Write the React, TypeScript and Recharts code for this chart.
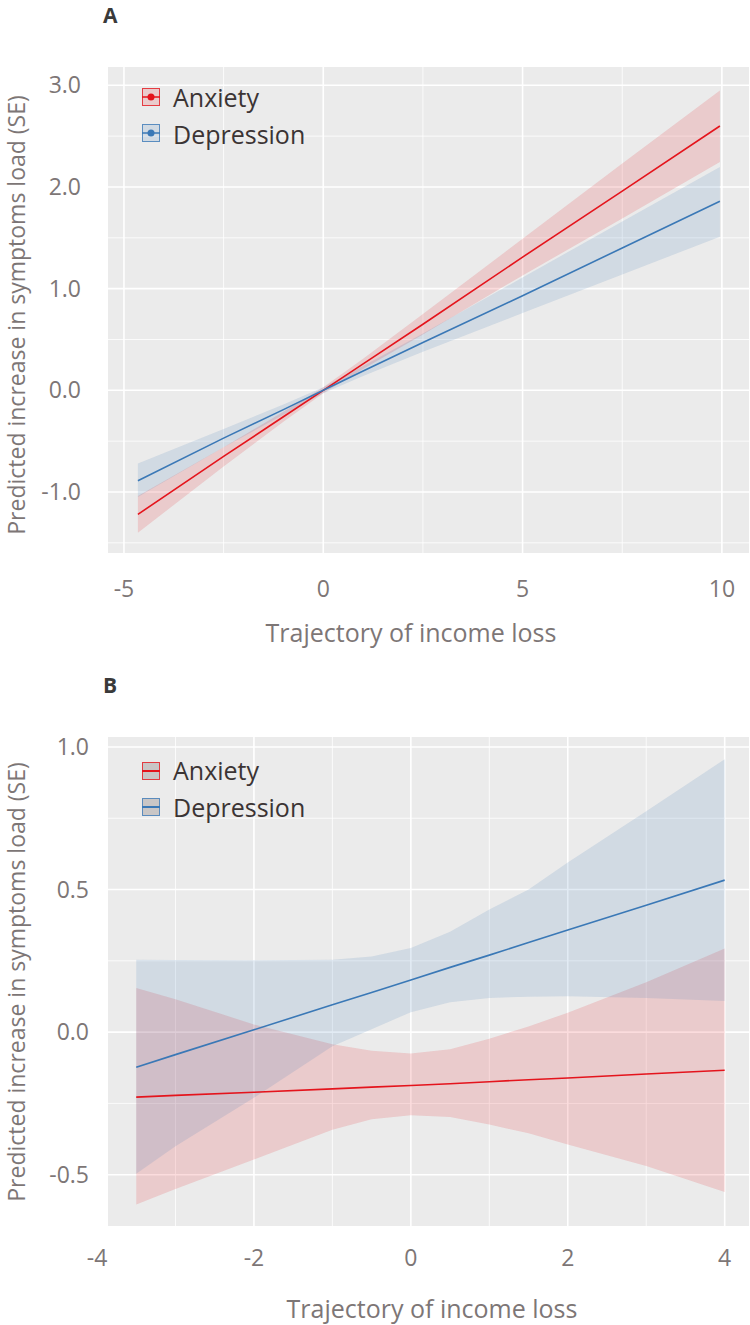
import React from "react";
import { ComposedChart, Area, Line, XAxis, YAxis, CartesianGrid } from "recharts";

const seriesNames = ["Anxiety", "Depression"];
const seriesColors = ["#e4141c", "#3a78b6"];

// Panel A: linear trajectory model
const xA = [-4.65, -2.5, -1, 0, 1, 2.5, 5, 7.5, 9.95];
const anxietyA = [-1.22, -0.65, -0.26, 0.0, 0.26, 0.65, 1.31, 1.96, 2.6];
const anxietyLowA = [-1.4, -0.75, -0.31, -0.03, 0.21, 0.55, 1.13, 1.69, 2.245];
const anxietyHighA = [-1.04, -0.56, -0.21, 0.03, 0.31, 0.75, 1.49, 2.23, 2.95];
const depressionA = [-0.89, -0.47, -0.19, 0.0, 0.19, 0.47, 0.93, 1.4, 1.86];
const depressionLowA = [-1.05, -0.56, -0.24, -0.03, 0.14, 0.38, 0.76, 1.14, 1.51];
const depressionHighA = [-0.72, -0.38, -0.14, 0.03, 0.24, 0.56, 1.11, 1.66, 2.196];
const xTicksA = [-5, 0, 5, 10];
const xMinorA = [-2.5, 2.5, 7.5];
const yTicksA = [-1, 0, 1, 2, 3];
const yMinorA = [-1.5, -0.5, 0.5, 1.5, 2.5];

// Panel B: interaction model
const xB = [-3.5, -3, -2, -1, -0.5, 0, 0.5, 1, 1.5, 2, 3, 4];
const anxietyB = [-0.228, -0.222, -0.211, -0.199, -0.193, -0.187, -0.181, -0.174, -0.167, -0.161, -0.147, -0.134];
const anxietyLowB = [-0.605, -0.55, -0.447, -0.342, -0.306, -0.292, -0.298, -0.324, -0.355, -0.394, -0.47, -0.561];
const anxietyHighB = [0.155, 0.115, 0.027, -0.043, -0.065, -0.075, -0.06, -0.023, 0.02, 0.068, 0.175, 0.293];
const depressionB = [-0.123, -0.079, 0.008, 0.096, 0.139, 0.183, 0.227, 0.27, 0.314, 0.358, 0.445, 0.533];
const depressionLowB = [-0.497, -0.4, -0.23, -0.05, 0.01, 0.07, 0.105, 0.12, 0.124, 0.126, 0.12, 0.109];
const depressionHighB = [0.254, 0.253, 0.252, 0.254, 0.265, 0.295, 0.352, 0.43, 0.5, 0.595, 0.775, 0.957];
const xTicksB = [-4, -2, 0, 2, 4];
const xMinorB = [-3, -1, 1, 3];
const yTicksB = [-0.5, 0, 0.5, 1];
const yMinorB = [-0.25, 0.25, 0.75];

const FONT = "'Open Sans', 'Noto Sans', sans-serif";
const AXIS_TEXT = "#7d7676";
const LEGEND_TEXT = "#3b3434";

function buildRows(xs, anx, anxLo, anxHi, dep, depLo, depHi) {
  return xs.map((x, i) => ({
    x,
    anx: anx[i],
    anxBand: [anxLo[i], anxHi[i]],
    dep: dep[i],
    depBand: [depLo[i], depHi[i]],
  }));
}

const rowsA = buildRows(xA, anxietyA, anxietyLowA, anxietyHighA, depressionA, depressionLowA, depressionHighA);
const rowsB = buildRows(xB, anxietyB, anxietyLowB, anxietyHighB, depressionB, depressionLowB, depressionHighB);

function LegendIcon({ color, y, withDot }) {
  return (
    <g transform={`translate(0, ${y})`}>
      <rect x={0.5} y={0.5} width={17} height={17} fill={withDot ? color : "#c9c6c6"} fillOpacity={withDot ? 0.15 : 1} stroke={color} strokeOpacity={0.8} />
      <line x1={0} x2={18} y1={9} y2={9} stroke={color} strokeWidth={withDot ? 1.5 : 2} />
      {withDot && <circle cx={9} cy={9} r={3.5} fill={color} />}
    </g>
  );
}

function Panel({ letter, top, height, plotTop, plotBottom, rows, xDomain, yDomain, xTicks, xMinor, yTicks, yMinor, xTickGap, yTickGap, xTitleX, xTitleY, yTitleY, legend }) {
  return (
    <div style={{ position: "absolute", left: 0, top, width: 750, height }}>
      <ComposedChart width={750} height={height} data={rows} margin={{ top: plotTop, right: 1, bottom: 0, left: 0 }}>
        <CartesianGrid horizontalValues={yMinor} verticalValues={xMinor} stroke="#ffffff" strokeWidth={0.8} fill="#ebebeb" />
        <CartesianGrid horizontalValues={yTicks} verticalValues={xTicks} stroke="#ffffff" strokeWidth={1.6} />
        <XAxis
          type="number"
          dataKey="x"
          domain={xDomain}
          ticks={xTicks}
          allowDataOverflow
          interval={0}
          height={height - plotBottom}
          axisLine={false}
          tickLine={false}
          tickSize={0}
          tickMargin={xTickGap}
          tick={{ fontSize: 23, fill: AXIS_TEXT, fontFamily: FONT }}
        />
        <YAxis
          type="number"
          domain={yDomain}
          ticks={yTicks}
          allowDataOverflow
          interval={0}
          width={108}
          axisLine={false}
          tickLine={false}
          tickSize={0}
          tickMargin={yTickGap}
          tickFormatter={(v) => v.toFixed(1)}
          tick={{ fontSize: 23, fill: AXIS_TEXT, fontFamily: FONT }}
        />
        <Area dataKey="anxBand" type="linear" stroke="none" fill={seriesColors[0]} fillOpacity={0.15} isAnimationActive={false} />
        <Area dataKey="depBand" type="linear" stroke="none" fill={seriesColors[1]} fillOpacity={0.15} isAnimationActive={false} />
        <Line dataKey="anx" type="linear" stroke={seriesColors[0]} strokeWidth={1.6} dot={false} isAnimationActive={false} />
        <Line dataKey="dep" type="linear" stroke={seriesColors[1]} strokeWidth={1.6} dot={false} isAnimationActive={false} />
      </ComposedChart>
      <svg width={750} height={height} style={{ position: "absolute", left: 0, top: 0, pointerEvents: "none" }}>
        <text x={103} y={letter === "A" ? 23 : 33} fontFamily={FONT} fontWeight={700} fontSize={21} fill="#3a3a3a">{letter}</text>
        <text x={xTitleX} y={xTitleY} textAnchor="middle" fontFamily={FONT} fontSize={25} fill={AXIS_TEXT}>
          Trajectory of income loss
        </text>
        <text x={25} y={yTitleY} transform={`rotate(-90 25 ${yTitleY})`} textAnchor="middle" fontFamily={FONT} fontSize={23} fill={AXIS_TEXT}>
          Predicted increase in symptoms load (SE)
        </text>
        <g transform={`translate(142, ${legend.top})`}>
          {seriesNames.map((name, i) => (
            <g key={name}>
              <LegendIcon color={seriesColors[i]} y={i * 36} withDot={legend.withDot} />
              <text x={31} y={legend.baseline + i * 37} fontFamily={FONT} fontSize={25} fill={LEGEND_TEXT}>{name}</text>
            </g>
          ))}
        </g>
      </svg>
    </div>
  );
}

export default function App() {
  return (
    <div style={{ position: "absolute", left: 0, top: 0, width: 750, height: 1325, background: "#ffffff" }}>
      <Panel
        letter="A"
        top={0}
        height={660}
        plotTop={67}
        plotBottom={553}
        rows={rowsA}
        xDomain={[-5.4, 10.68]}
        yDomain={[-1.6, 3.18]}
        xTicks={xTicksA}
        xMinor={xMinorA}
        yTicks={yTicksA}
        yMinor={yMinorA}
        xTickGap={28}
        yTickGap={27}
        xTitleX={411}
        xTitleY={642}
        yTitleY={315}
        legend={{ top: 88, baseline: 19, withDot: true }}
      />
      <Panel
        letter="B"
        top={660}
        height={665}
        plotTop={77}
        plotBottom={566}
        rows={rowsB}
        xDomain={[-3.86, 4.31]}
        yDomain={[-0.68, 1.035]}
        xTicks={xTicksB}
        xMinor={xMinorB}
        yTicks={yTicksB}
        yMinor={yMinorB}
        xTickGap={24}
        yTickGap={19}
        xTitleX={432}
        xTitleY={658}
        yTitleY={322}
        legend={{ top: 102, baseline: 18, withDot: false }}
      />
    </div>
  );
}
